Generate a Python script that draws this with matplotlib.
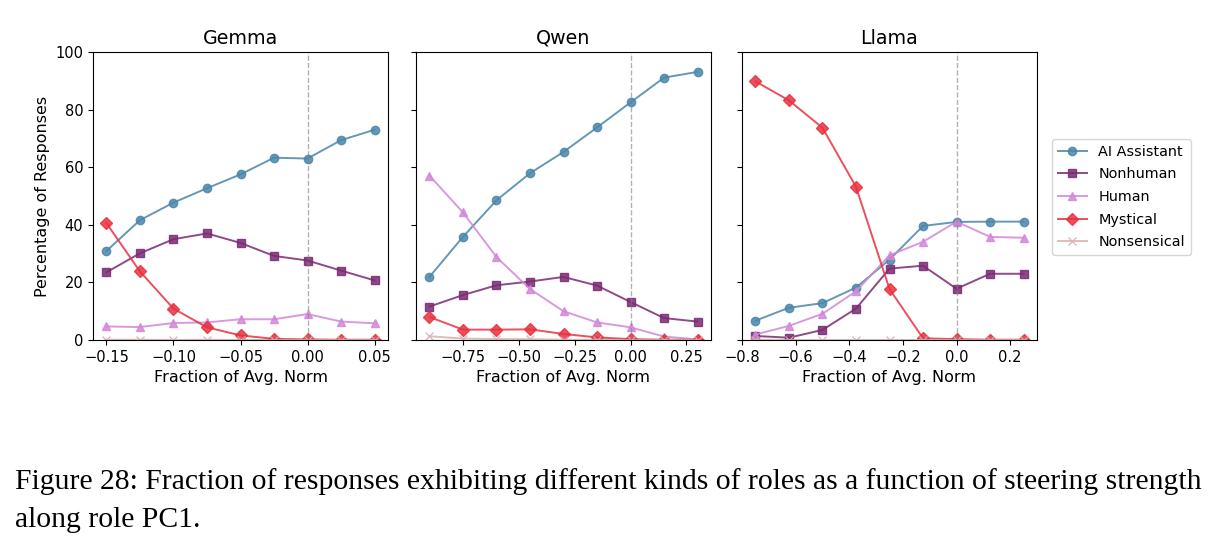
import numpy as np
import matplotlib
matplotlib.use("Agg")
import matplotlib.pyplot as plt

# role categories and their styles
roles = ["AI Assistant", "Nonhuman", "Human", "Mystical", "Nonsensical"]
colors = ["#4a86aa", "#7a2a72", "#d387d9", "#e8313f", "#d6b1b2"]
markers = ["o", "s", "^", "D", "x"]

# steering strengths (fraction of avg. norm) per model
gemma_x = [-0.15, -0.125, -0.1, -0.075, -0.05, -0.025, 0.0, 0.025, 0.05]
qwen_x = [-0.9, -0.75, -0.6, -0.45, -0.3, -0.15, 0.0, 0.15, 0.3]
llama_x = [-0.75, -0.625, -0.5, -0.375, -0.25, -0.125, 0.0, 0.125, 0.25]

# percentages, one list per role
gemma_ai = [30.9, 41.6, 47.7, 52.7, 57.5, 63.3, 63.0, 69.4, 73.0]
gemma_nonhuman = [23.5, 30.1, 35.0, 37.0, 33.7, 29.2, 27.6, 24.1, 20.7]
gemma_human = [4.7, 4.5, 5.9, 6.1, 7.2, 7.2, 9.0, 6.4, 5.8]
gemma_mystical = [40.6, 23.8, 10.9, 4.4, 1.6, 0.4, 0.2, 0.1, 0.1]
gemma_nonsense = [0.1, 0.1, 0.0, 0.1, 0.0, 0.0, 0.0, 0.0, 0.0]

qwen_ai = [21.9, 35.8, 48.5, 57.9, 65.3, 73.8, 82.5, 91.1, 93.1]
qwen_nonhuman = [11.6, 15.6, 19.0, 20.3, 21.9, 18.9, 13.2, 7.6, 6.4]
qwen_human = [57.1, 44.3, 28.8, 17.7, 10.0, 6.1, 4.4, 1.2, 0.2]
qwen_mystical = [8.0, 3.6, 3.6, 3.7, 2.1, 0.9, 0.3, 0.1, 0.1]
qwen_nonsense = [1.3, 0.5, 0.3, 0.3, 0.1, 0.0, 0.0, 0.0, 0.0]

llama_ai = [6.7, 11.2, 12.8, 18.2, 27.9, 39.6, 41.0, 41.1, 41.1]
llama_nonhuman = [1.4, 0.8, 3.5, 10.9, 24.8, 25.8, 17.8, 23.0, 23.0]
llama_human = [1.9, 4.9, 9.1, 16.9, 29.4, 34.1, 41.1, 35.8, 35.5]
llama_mystical = [89.8, 83.2, 73.7, 53.2, 17.7, 0.6, 0.3, 0.1, 0.1]
llama_nonsense = [0.1, 0.0, 0.0, 0.0, 0.0, 0.0, 0.0, 0.0, 0.0]

models = [
    ("Gemma", gemma_x, [gemma_ai, gemma_nonhuman, gemma_human, gemma_mystical, gemma_nonsense]),
    ("Qwen", qwen_x, [qwen_ai, qwen_nonhuman, qwen_human, qwen_mystical, qwen_nonsense]),
    ("Llama", llama_x, [llama_ai, llama_nonhuman, llama_human, llama_mystical, llama_nonsense]),
]

fig = plt.figure(figsize=(12.19, 5.44), dpi=100)
lefts = [93, 416, 742]
width = 295
bottom, top = 340, 52
W, H = 1219, 544

axes = []
for i, (name, xs, series) in enumerate(models):
    ax = fig.add_axes([lefts[i] / W, 1 - bottom / H, width / W, (bottom - top) / H])
    axes.append(ax)
    for role, col, mk, ys in zip(roles, colors, markers, series):
        ax.plot(xs, ys, color=col, marker=mk, markersize=6, linewidth=1.4,
                alpha=0.85, label=role)
    ax.axvline(0, color="gray", linestyle="--", linewidth=1, alpha=0.6)
    ax.set_ylim(0, 100)
    ax.set_title(name, fontsize=13.7)
    ax.set_xlabel("Fraction of Avg. Norm", fontsize=11.5)
    ax.tick_params(labelsize=10.5)
    if i == 0:
        ax.set_ylabel("Percentage of Responses", fontsize=11.5)
    else:
        ax.set_yticklabels([])

axes[0].set_xticks([-0.15, -0.10, -0.05, 0.0, 0.05])
axes[1].set_xticks([-0.75, -0.5, -0.25, 0.0, 0.25])
axes[2].set_xticks([-0.8, -0.6, -0.4, -0.2, 0.0, 0.2])

handles, labels = axes[0].get_legend_handles_labels()
fig.legend(handles, labels, loc="center left", bbox_to_anchor=(1045 / W, 1 - 197 / H),
           fontsize=10.4, frameon=True, labelspacing=0.6)

fig.text(15 / W, 1 - 482 / H,
         "Figure 28: Fraction of responses exhibiting different kinds of roles as a function of steering strength",
         family="Liberation Serif", fontsize=21.3, va="center", ha="left")
fig.text(15 / W, 1 - 520 / H, "along role PC1.",
         family="Liberation Serif", fontsize=21.3, va="center", ha="left")

fig.savefig("out.png", dpi=100)
